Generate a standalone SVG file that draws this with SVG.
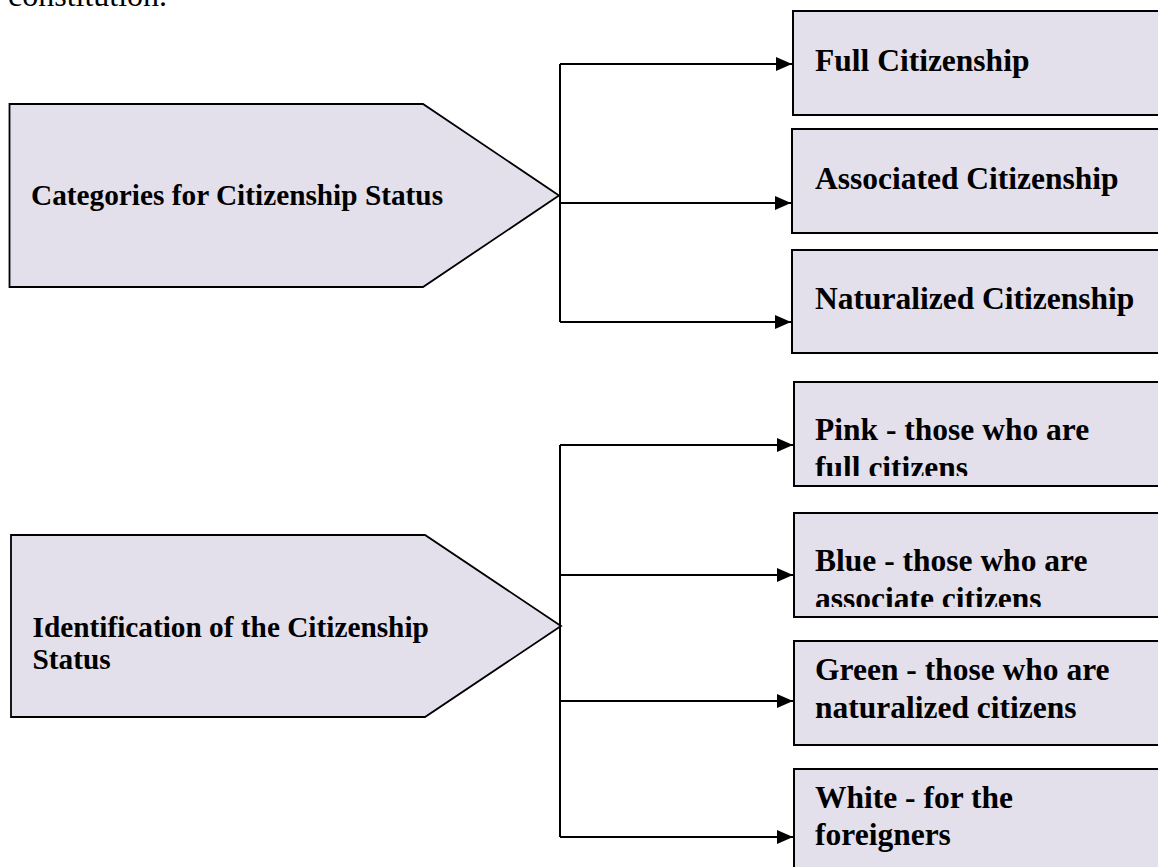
<svg xmlns="http://www.w3.org/2000/svg" width="1158" height="867" viewBox="0 0 1158 867">
<defs>
<style>
.shape{fill:#E3DFEB;stroke:#000;stroke-width:2}
.pent{fill:#E3DFEB;stroke:#000;stroke-width:1.8;stroke-linejoin:miter}
.lbl{font-family:"Liberation Serif","Times New Roman",serif;font-weight:bold;font-size:31.5px;fill:#000}
.lbl2{font-family:"Liberation Serif","Times New Roman",serif;font-weight:bold;font-size:29.3px;fill:#000}
.body{font-family:"Liberation Serif","Times New Roman",serif;font-size:32px;fill:#000}
.conn{fill:none;stroke:#000;stroke-width:2}
</style>
<marker id="arr" markerWidth="16" markerHeight="14" refX="16" refY="7" orient="auto" markerUnits="userSpaceOnUse">
<path d="M0,0 L16,7 L0,14 Z" fill="#000"/>
</marker>
<clipPath id="clipPink"><rect x="790" y="380" width="380" height="96"/></clipPath>
<clipPath id="clipBlue"><rect x="790" y="511" width="380" height="96"/></clipPath>
</defs>
<rect width="1158" height="867" fill="#fff"/>
<text class="body" x="8" y="6">constitution.</text>

<g id="categories">
<polygon class="pent" points="9.5,104 423,104 559,195.5 423,287 9.5,287"/>
<text class="lbl2" x="31" y="205">Categories for Citizenship Status</text>
</g>
<g id="identification">
<polygon class="pent" points="11,535 425,535 561,626 425,717 11,717"/>
<text class="lbl2" x="32.5" y="637">Identification of the Citizenship</text>
<text class="lbl2" x="32.5" y="669">Status</text>
</g>

<g id="full">
<rect class="shape" x="793" y="11" width="380" height="104"/>
<text class="lbl" x="815" y="71">Full Citizenship</text>
</g>
<g id="associated">
<rect class="shape" x="792" y="129" width="380" height="104"/>
<text class="lbl" x="815" y="189">Associated Citizenship</text>
</g>
<g id="naturalized">
<rect class="shape" x="792" y="250" width="380" height="103"/>
<text class="lbl" x="815" y="309">Naturalized Citizenship</text>
</g>
<g id="pink">
<rect class="shape" x="794" y="382" width="380" height="104"/>
<g clip-path="url(#clipPink)">
<text class="lbl" x="815" y="440">Pink - those who are</text>
<text class="lbl" x="815" y="478">full citizens</text>
</g>
</g>
<g id="blue">
<rect class="shape" x="794" y="513" width="380" height="104"/>
<g clip-path="url(#clipBlue)">
<text class="lbl" x="815" y="571">Blue - those who are</text>
<text class="lbl" x="815" y="609">associate citizens</text>
</g>
</g>
<g id="green">
<rect class="shape" x="794" y="641" width="380" height="104"/>
<text class="lbl" x="815" y="680">Green - those who are</text>
<text class="lbl" x="815" y="718">naturalized citizens</text>
</g>
<g id="white">
<rect class="shape" x="794" y="769" width="380" height="120"/>
<text class="lbl" x="815" y="808">White - for the</text>
<text class="lbl" x="815" y="845">foreigners</text>
</g>

<g id="connectors">
<polyline class="conn" points="560,64 560,322"/>
<line class="conn" x1="560" y1="64" x2="792" y2="64" marker-end="url(#arr)"/>
<line class="conn" x1="560" y1="203" x2="791" y2="203" marker-end="url(#arr)"/>
<line class="conn" x1="560" y1="322" x2="791" y2="322" marker-end="url(#arr)"/>
<polyline class="conn" points="560,445 560,837"/>
<line class="conn" x1="560" y1="445" x2="793" y2="445" marker-end="url(#arr)"/>
<line class="conn" x1="560" y1="575" x2="793" y2="575" marker-end="url(#arr)"/>
<line class="conn" x1="560" y1="701" x2="793" y2="701" marker-end="url(#arr)"/>
<line class="conn" x1="560" y1="837" x2="793" y2="837" marker-end="url(#arr)"/>
</g>
</svg>
